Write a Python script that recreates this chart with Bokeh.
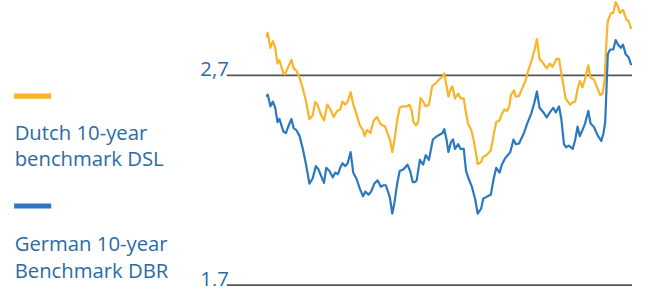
from bokeh.plotting import figure
from bokeh.models import Range1d
from bokeh.core.properties import value
from bokeh.embed import file_html
from bokeh.resources import INLINE

# ---- data (trading-day index, yield in %) ----
dsl_day = [0.7, 2, 4.7, 7.3, 9.7, 12, 14, 18, 19.7, 23, 26.3, 28.7, 31.3, 34.7, 38, 41.3, 44.7, 48, 50.7, 53,
           56.3, 59.7, 63, 66.3, 69.7, 73, 76.3, 78.7, 81.3, 84, 87, 89.7, 93, 96.3, 99.7, 101.3, 104, 107.3, 110.7, 114,
           117.3, 119.7, 122.3, 124.7, 127.3, 129.7, 132, 134.7, 137.3, 140.7, 144.7, 147.3, 149.7, 151.3, 154, 156.3, 158.7, 161.3, 164, 167.3,
           170.7, 174.7, 178, 181.3, 183, 184.7, 187.3, 189.7, 191.3, 194, 197.3, 199.7, 203, 204.7, 207.3, 210.7, 213, 215.3, 217.3, 220.7,
           223, 226.3, 230.7, 234, 236.3, 239.7, 242, 244.7, 247.3, 249.7, 251.3, 254.7, 256.3, 259.7, 264, 266.3, 268.7, 272, 275.3, 278,
           280.7, 284.7, 288, 291.3, 294, 298, 300.7, 303, 305.3, 307.3, 309.7, 312, 315.3, 317.3, 319.7, 322, 324.7, 327.3, 330.7, 333,
           336.3, 339.7, 343, 345.3, 347.3, 349.7, 350.7, 354, 356.3, 358.7, 361.3, 363, 366.3, 369.7, 372, 374.7]
dsl_yield = [2.881, 2.903, 2.831, 2.863, 2.831, 2.756, 2.772, 2.710, 2.705, 2.741, 2.774, 2.733, 2.723, 2.688, 2.637, 2.575, 2.492, 2.507, 2.574, 2.560,
             2.515, 2.485, 2.560, 2.537, 2.501, 2.530, 2.537, 2.575, 2.560, 2.575, 2.620, 2.560, 2.515, 2.462, 2.439, 2.411, 2.439, 2.425, 2.485, 2.501,
             2.470, 2.462, 2.456, 2.425, 2.394, 2.334, 2.394, 2.485, 2.545, 2.552, 2.552, 2.560, 2.530, 2.477, 2.462, 2.477, 2.592, 2.575, 2.552, 2.560,
             2.650, 2.664, 2.682, 2.695, 2.709, 2.665, 2.598, 2.637, 2.647, 2.590, 2.613, 2.590, 2.590, 2.537, 2.470, 2.439, 2.394, 2.334, 2.277, 2.286,
             2.312, 2.319, 2.342, 2.425, 2.477, 2.485, 2.515, 2.537, 2.530, 2.552, 2.605, 2.628, 2.598, 2.602, 2.650, 2.673, 2.718, 2.763, 2.816, 2.873,
             2.778, 2.756, 2.733, 2.756, 2.741, 2.778, 2.778, 2.710, 2.650, 2.590, 2.575, 2.560, 2.572, 2.575, 2.635, 2.673, 2.643, 2.681, 2.748, 2.688,
             2.681, 2.643, 2.605, 2.613, 2.673, 2.899, 2.959, 2.997, 2.997, 3.049, 3.026, 2.997, 3.012, 2.966, 2.959, 2.921]

dbr_day = [0.7, 2, 4.7, 7.3, 9.7, 12, 14, 18, 20.7, 23, 26.3, 28.7, 31.3, 34.7, 38, 41.3, 44.7, 48, 51.3, 54,
           57.3, 59.7, 62, 65.3, 68.7, 71.3, 74, 76.3, 78.7, 81.3, 84, 87, 89.7, 93, 96.3, 99.7, 102, 105.3, 108, 111.3,
           114.7, 118, 120.7, 123, 125.3, 127.3, 129.7, 132, 134.7, 137.3, 141.3, 145.3, 148, 150.7, 153, 154.7, 158, 161.3, 164, 167.3,
           171.3, 176.3, 181.3, 183, 185.3, 187.3, 189.7, 192, 194, 197.3, 199.7, 203, 205.3, 208, 211.3, 214.7, 217.3, 220.7, 223, 227.3,
           230.7, 234, 236.3, 239.7, 242, 245.3, 248, 250.7, 254, 256.3, 259.7, 264.7, 268, 272, 275.3, 278, 280.7, 284.7, 288, 291.3,
           294.7, 297.3, 300.7, 303, 305.7, 308, 310.7, 314.7, 317.3, 319.7, 322, 324.7, 327.3, 330.7, 333, 336.3, 340.7, 344, 346.3, 348,
           350.7, 353, 356.3, 358.7, 361.3, 364, 366.3, 369, 372, 374.7]
dbr_yield = [2.598, 2.608, 2.552, 2.575, 2.545, 2.477, 2.492, 2.432, 2.425, 2.455, 2.492, 2.447, 2.439, 2.410, 2.349, 2.274, 2.184, 2.207, 2.267, 2.252,
             2.214, 2.187, 2.259, 2.244, 2.214, 2.236, 2.229, 2.259, 2.281, 2.267, 2.281, 2.334, 2.236, 2.207, 2.161, 2.123, 2.146, 2.131, 2.146, 2.184,
             2.199, 2.169, 2.176, 2.176, 2.146, 2.116, 2.041, 2.094, 2.184, 2.244, 2.252, 2.274, 2.244, 2.191, 2.191, 2.199, 2.297, 2.274, 2.319, 2.297,
             2.394, 2.412, 2.425, 2.443, 2.394, 2.334, 2.379, 2.394, 2.349, 2.372, 2.349, 2.349, 2.244, 2.207, 2.169, 2.109, 2.041, 2.063, 2.112, 2.123,
             2.131, 2.214, 2.259, 2.236, 2.274, 2.304, 2.319, 2.334, 2.394, 2.372, 2.375, 2.425, 2.470, 2.515, 2.568, 2.623, 2.545, 2.523, 2.500, 2.523,
             2.545, 2.523, 2.552, 2.492, 2.372, 2.357, 2.365, 2.349, 2.394, 2.455, 2.410, 2.439, 2.470, 2.530, 2.470, 2.455, 2.410, 2.387, 2.425, 2.477,
             2.801, 2.823, 2.823, 2.868, 2.846, 2.831, 2.846, 2.801, 2.786, 2.748]

tick_values = [1.7, 2.7]
tick_labels = ["1,7", "2,7"]
series_names = [["Dutch 10-year", "benchmark DSL"], ["German 10-year", "Benchmark DBR"]]

# ---- styling ----
ORANGE = "#F9B428"
BLUE = "#2A78C0"
TEXT = "#2C6BA3"
GRID = "#555555"
FONT = "Open Sans"

# layout is designed on a 648x302 canvas and fitted into the window (8px page margin)
REF_W, REF_H = 648, 302
W, H = 632, 286
S = H / REF_H
PX_PER_UNIT = 221.5          # reference pixels per 1 %-point
X0_DAY = -272
Y_TOP = 2.7 + 79 / PX_PER_UNIT
Y_BOTTOM = Y_TOP - REF_H / PX_PER_UNIT

def px_x(ref_x):             # reference pixel -> data x (layout helper)
    return X0_DAY + ref_x

def px_y(ref_y):             # reference pixel -> data y (layout helper)
    return Y_TOP - ref_y / PX_PER_UNIT

p = figure(width=W, height=H, output_backend="svg", toolbar_location=None,
           x_range=Range1d(X0_DAY, X0_DAY + REF_W), y_range=Range1d(Y_BOTTOM, Y_TOP),
           min_border=0, min_border_left=0, min_border_right=0,
           min_border_top=0, min_border_bottom=0)
p.axis.visible = False
p.grid.visible = False
p.outline_line_color = None
p.background_fill_color = "white"
p.border_fill_color = "white"

FS = "20.3px"

# horizontal reference lines + labels
grid_x0, grid_x1 = px_x(232), px_x(648)
p.segment(x0=[grid_x0] * len(tick_values), x1=[grid_x1] * len(tick_values),
          y0=tick_values, y1=tick_values, line_color=GRID, line_width=1.8)
for tv, tl in zip(tick_values, tick_labels):
    dy = -7 if tv == max(tick_values) else -6.5
    p.text(x=[px_x(234)], y=[tv], text=[tl],
           text_align="right", text_baseline="alphabetic", y_offset=dy * S,
           text_font=value(FONT), text_font_size=FS, text_color=TEXT)

# series
p.line(dsl_day, dsl_yield, line_color=ORANGE, line_width=2.2, line_join="round")
p.line(dbr_day, dbr_yield, line_color=BLUE, line_width=2.2, line_join="round")

# legend (bar above two-line label)
for color, names, bar_y, base_y in [(ORANGE, series_names[0], 101, 138.5),
                                    (BLUE, series_names[1], 217, 256.5)]:
    p.segment(x0=[px_x(14)], x1=[px_x(52)], y0=[px_y(bar_y)], y1=[px_y(bar_y)],
              line_color=color, line_width=5.5 * S, line_cap="butt")
    p.text(x=[px_x(14.5)] * 2, y=[px_y(base_y), px_y(base_y + 28)], text=names,
           text_align="left", text_baseline="alphabetic",
           text_font=value(FONT), text_font_size=FS, text_color=TEXT)

open("out.html", "w").write(file_html(p, INLINE))
